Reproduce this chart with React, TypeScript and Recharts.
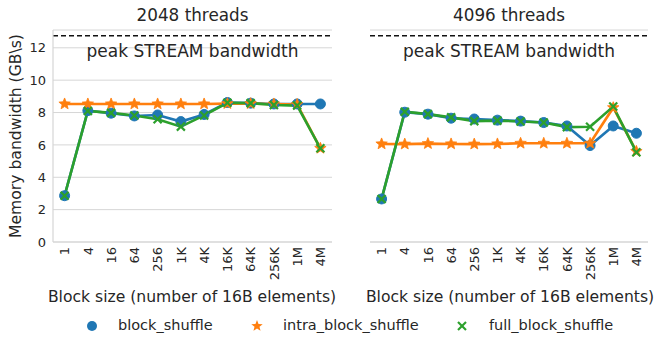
import React from "react";
import { LineChart, Line, XAxis, YAxis, CartesianGrid, ReferenceLine } from "recharts";

const blockSizes = ["1", "4", "16", "64", "256", "1K", "4K", "16K", "64K", "256K", "1M", "4M"];
const yTicks = [0, 2, 4, 6, 8, 10, 12];
const peakStream = 12.74;

const block2048 = [2.86, 8.12, 7.96, 7.79, 7.85, 7.44, 7.88, 8.62, 8.58, 8.53, 8.53, 8.53];
const intra2048 = [8.53, 8.53, 8.53, 8.53, 8.53, 8.53, 8.53, 8.55, 8.55, 8.53, 8.5, 5.79];
const full2048 = [2.86, 8.1, 7.98, 7.82, 7.59, 7.13, 7.82, 8.6, 8.58, 8.47, 8.43, 5.79];

const block4096 = [2.66, 8.02, 7.9, 7.65, 7.6, 7.53, 7.47, 7.38, 7.17, 5.96, 7.17, 6.72];
const intra4096 = [6.06, 6.05, 6.08, 6.06, 6.05, 6.06, 6.1, 6.1, 6.1, 6.1, 8.3, 5.6];
const full4096 = [2.66, 8.05, 7.9, 7.7, 7.47, 7.5, 7.45, 7.38, 7.1, 7.12, 8.37, 5.55];

const BLUE = "#1f77b4";
const ORANGE = "#ff7f0e";
const GREEN = "#2ca02c";
const TEXT = "#262626";
const GRID = "#d6d6d6";
const FONT = "'DejaVu Sans', sans-serif";

const build = (b: number[], i: number[], f: number[]) =>
  blockSizes.map((s, k) => ({ size: s, block: b[k], intra: i[k], full: f[k] }));

const starPath = (cx: number, cy: number, R: number, r: number) => {
  const pts: string[] = [];
  for (let k = 0; k < 10; k++) {
    const rad = k % 2 === 0 ? R : r;
    const a = -Math.PI / 2 + (k * Math.PI) / 5;
    pts.push(`${cx + rad * Math.cos(a)},${cy + rad * Math.sin(a)}`);
  }
  return `M${pts.join("L")}Z`;
};

const CircleDot = (p: any) => (
  <circle key={p.index} cx={p.cx} cy={p.cy} r={5} fill={BLUE} stroke={BLUE} />
);
const StarDot = (p: any) => (
  <path key={p.index} d={starPath(p.cx, p.cy, 6, 2.6)} fill={ORANGE} stroke={ORANGE} strokeWidth={0.8} />
);
const XDot = (p: any) => (
  <g key={p.index}>
    <line x1={p.cx - 4} y1={p.cy - 4} x2={p.cx + 4} y2={p.cy + 4} stroke={GREEN} strokeWidth={2.2} />
    <line x1={p.cx - 4} y1={p.cy + 4} x2={p.cx + 4} y2={p.cy - 4} stroke={GREEN} strokeWidth={2.2} />
  </g>
);

const XTick = (p: any) => (
  <g transform={`translate(${p.x},${p.y})`}>
    <text transform="rotate(-90)" x={0} y={0} dy="0.36em" textAnchor="end" fill={TEXT} fontSize={13} fontFamily={FONT}>
      {p.payload.value}
    </text>
  </g>
);

type PanelProps = {
  data: any[];
  width: number;
  left: number;
  showY: boolean;
};

const Panel = ({ data, width, left, showY }: PanelProps) => (
  <LineChart
    width={width}
    height={348}
    data={data}
    margin={{ top: 30, right: 8, left: left, bottom: 56 }}
    style={{ position: "absolute", top: 0 }}
  >
    <CartesianGrid vertical={false} stroke={GRID} strokeWidth={1} />
    <XAxis
      dataKey="size"
      height={50}
      padding={{ left: 11.6, right: 11.6 }}
      interval={0}
      tickLine={false}
      tickSize={0}
      tickMargin={5}
      axisLine={{ stroke: GRID, strokeWidth: 1.2 }}
      tick={<XTick />}
    />
    <YAxis
      domain={[0, 13.1]}
      ticks={yTicks}
      width={showY ? 53 : 0}
      tickLine={false}
      tickSize={0}
      tickMargin={7}
      axisLine={{ stroke: GRID, strokeWidth: 1.2 }}
      tick={showY ? { fill: TEXT, fontSize: 13, fontFamily: FONT } : false}
      allowDataOverflow
    />
    <ReferenceLine y={peakStream} stroke="#111" strokeWidth={1.5} strokeDasharray="5 3" />
    <Line dataKey="block" stroke={BLUE} strokeWidth={2.6} dot={CircleDot} isAnimationActive={false} />
    <Line dataKey="intra" stroke={ORANGE} strokeWidth={2.6} dot={StarDot} isAnimationActive={false} />
    <Line dataKey="full" stroke={GREEN} strokeWidth={2.6} dot={XDot} isAnimationActive={false} />
  </LineChart>
);

const txt = (extra: React.CSSProperties): React.CSSProperties => ({
  position: "absolute",
  fontFamily: FONT,
  color: TEXT,
  whiteSpace: "nowrap",
  lineHeight: 1,
  ...extra,
});

export default function App() {
  const d2048 = build(block2048, intra2048, full2048);
  const d4096 = build(block4096, intra4096, full4096);
  return (
    <div style={{ position: "absolute", left: 0, top: 0, width: 664, height: 348, background: "#fff", overflow: "hidden" }}>
      <div style={{ position: "absolute", left: 0, top: 0, width: 340, height: 348 }}>
        <Panel data={d2048} width={340} left={0} showY={true} />
      </div>
      <div style={{ position: "absolute", left: 330, top: 0, width: 326, height: 348 }}>
        <Panel data={d4096} width={326} left={40} showY={false} />
      </div>

      <div style={txt({ left: 53, width: 279, top: 7, textAlign: "center", fontSize: 16.8 })}>2048 threads</div>
      <div style={txt({ left: 370, width: 278, top: 7, textAlign: "center", fontSize: 16.8 })}>4096 threads</div>

      <div style={txt({ left: 53, width: 279, top: 43, textAlign: "center", fontSize: 17 })}>peak STREAM bandwidth</div>
      <div style={txt({ left: 370, width: 278, top: 43, textAlign: "center", fontSize: 17 })}>peak STREAM bandwidth</div>

      <div
        style={txt({
          left: 17,
          top: 136,
          fontSize: 15.6,
          transform: "translate(-50%, -50%) rotate(-90deg)",
        })}
      >
        Memory bandwidth (GB\s)
      </div>

      <div style={txt({ left: 33, width: 318, top: 290, textAlign: "center", fontSize: 15.6 })}>
        Block size (number of 16B elements)
      </div>
      <div style={txt({ left: 351, width: 318, top: 290, textAlign: "center", fontSize: 15.6 })}>
        Block size (number of 16B elements)
      </div>

      <svg style={{ position: "absolute", left: 0, top: 310 }} width={664} height={30}>
        <circle cx={92} cy={16} r={5} fill={BLUE} />
        <path d={starPath(257, 16, 6, 2.6)} fill={ORANGE} />
        <line x1={458} y1={12} x2={466} y2={20} stroke={GREEN} strokeWidth={2.2} />
        <line x1={458} y1={20} x2={466} y2={12} stroke={GREEN} strokeWidth={2.2} />
      </svg>
      <div style={txt({ left: 118, top: 318, fontSize: 14.5 })}>block_shuffle</div>
      <div style={txt({ left: 283, top: 318, fontSize: 14.5 })}>intra_block_shuffle</div>
      <div style={txt({ left: 489, top: 318, fontSize: 14.5 })}>full_block_shuffle</div>
    </div>
  );
}
